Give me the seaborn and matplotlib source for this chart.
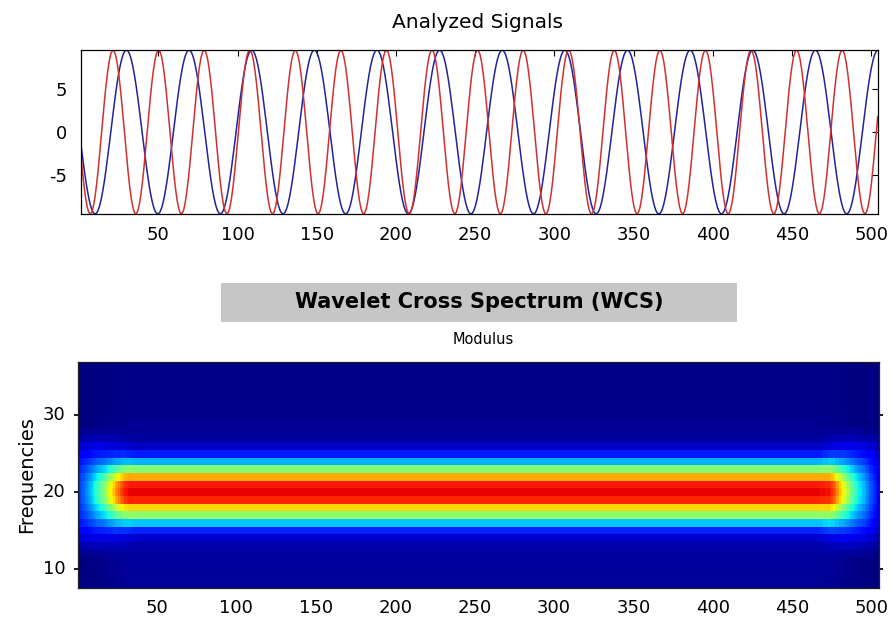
import numpy as np
import pandas as pd
import matplotlib
matplotlib.use("Agg")
import matplotlib.pyplot as plt
import seaborn as sns
from matplotlib.patches import Rectangle

# signals
n_samples = 504
amplitude = 9.6
red_period = 28.76      # samples per cycle
red_first_peak = 21.4
blue_period = 39.53
blue_first_trough = 10.1
xticks_vals = [50, 100, 150, 200, 250, 300, 350, 400, 450, 500]
yticks_top = [-5, 0, 5]

# WCS modulus: rows are frequencies 8..37
freqs = list(range(8, 38))
core_profile = [0.022, 0.024, 0.026, 0.028, 0.030, 0.040, 0.070, 0.160, 0.320, 0.520,
                0.680, 0.870, 0.910, 0.880, 0.730, 0.510, 0.300, 0.150, 0.060, 0.030,
                0.020, 0.016, 0.014, 0.012, 0.010, 0.010, 0.010, 0.010, 0.010, 0.010]
halo_profile = [0.00, 0.00, 0.00, 0.00, 0.10, 0.30, 0.55, 0.80, 0.95, 1.00,
                1.00, 1.00, 1.00, 1.00, 1.00, 1.00, 0.95, 0.80, 0.55, 0.30,
                0.10, 0.00, 0.00, 0.00, 0.00, 0.00, 0.00, 0.00, 0.00, 0.00]
# envelopes at the start (x = 1..35) and end (x = 466..504) of the signal
left_core = [0.05, 0.07, 0.09, 0.11, 0.13, 0.15, 0.17, 0.19, 0.22, 0.25,
             0.28, 0.31, 0.34, 0.37, 0.40, 0.43, 0.46, 0.50, 0.54, 0.58,
             0.62, 0.66, 0.70, 0.74, 0.78, 0.82, 0.86, 0.89, 0.92, 0.94,
             0.96, 0.98, 0.99, 1.00, 1.00]
left_halo = [0.13, 0.13, 0.13, 0.13, 0.13, 0.13, 0.13, 0.13, 0.13, 0.13,
             0.13, 0.13, 0.12, 0.12, 0.11, 0.11, 0.10, 0.10, 0.09, 0.09,
             0.08, 0.08, 0.07, 0.07, 0.06, 0.05, 0.04, 0.04, 0.03, 0.03,
             0.02, 0.02, 0.01, 0.01, 0.00]
right_core = [1.00, 0.99, 0.98, 0.97, 0.96, 0.95, 0.94, 0.93, 0.91, 0.88,
              0.84, 0.80, 0.76, 0.72, 0.68, 0.64, 0.60, 0.56, 0.52, 0.48,
              0.44, 0.40, 0.37, 0.34, 0.31, 0.28, 0.26, 0.24, 0.22, 0.20,
              0.18, 0.16, 0.14, 0.12, 0.10, 0.08, 0.07, 0.06, 0.05]
right_halo = [0.00, 0.01, 0.01, 0.02, 0.03, 0.03, 0.04, 0.05, 0.05, 0.06,
              0.07, 0.07, 0.08, 0.09, 0.09, 0.10, 0.11, 0.11, 0.12, 0.12,
              0.13, 0.13, 0.13, 0.13, 0.13, 0.13, 0.13, 0.13, 0.13, 0.13,
              0.13, 0.12, 0.12, 0.11, 0.11, 0.10, 0.10, 0.09, 0.08]

sns.set_theme(style="white")
plt.rcParams['font.family'] = ['DejaVu Sans']
plt.rcParams['axes.unicode_minus'] = False
plt.rcParams['text.color'] = 'black'

t = np.arange(1, n_samples + 1)
red_sig = amplitude * np.cos(2 * np.pi * (t - red_first_peak) / red_period)
blue_sig = -amplitude * np.cos(2 * np.pi * (t - blue_first_trough) / blue_period)

core_env = np.ones(n_samples)
core_env[:len(left_core)] = left_core
core_env[-len(right_core):] = right_core
halo_env = np.zeros(n_samples)
halo_env[:len(left_halo)] = left_halo
halo_env[-len(right_halo):] = right_halo
modulus = np.outer(core_profile, core_env) + np.outer(halo_profile, halo_env)
wcs = pd.DataFrame(modulus, index=freqs, columns=t)

W, H = 896, 623
fig = plt.figure(figsize=(W / 100, H / 100), dpi=100)

# top panel
ax1 = fig.add_axes([80.7 / W, 1 - 214 / H, 797 / W, 164 / H])
sig_df = pd.DataFrame({"t": t, "red": red_sig, "blue": blue_sig})
sns.lineplot(data=sig_df, x="t", y="blue", color="#22229a", lw=1.1, ax=ax1)
sns.lineplot(data=sig_df, x="t", y="red", color="#d03030", lw=1.1, ax=ax1)
ax1.set_xlim(1, n_samples)
ax1.set_ylim(-amplitude, amplitude)
ax1.set_xticks(xticks_vals)
ax1.set_yticks(yticks_top)
ax1.set_xlabel("")
ax1.set_ylabel("")
ax1.tick_params(direction="in", top=True, right=True, length=4, width=0.8,
                labelsize=13, colors="black")
ax1.tick_params(axis="x", pad=9)
ax1.tick_params(axis="y", pad=10)
for s in ax1.spines.values():
    s.set_color("black")
    s.set_linewidth(0.9)

# bottom panel
ax2 = fig.add_axes([78.3 / W, 1 - 588 / H, 800.7 / W, 226.3 / H])
sns.heatmap(wcs, cmap="jet", vmin=0, vmax=1, cbar=False, ax=ax2)
ax2.invert_yaxis()
ax2.set_ylim(0, len(freqs) - 0.5)
ax2.set_xticks([v - 0.5 for v in xticks_vals])
ax2.set_xticklabels([str(v) for v in xticks_vals], rotation=0)
ax2.set_yticks([f - freqs[0] + 0.5 for f in [10, 20, 30]])
ax2.set_yticklabels(["10", "20", "30"], rotation=0)
ax2.set_xlabel("")
ax2.set_ylabel("Frequencies", fontsize=14, color="black")
ax2.yaxis.set_label_coords(-0.053, 0.5)
ax2.tick_params(axis="x", length=0, pad=8, labelsize=13, colors="black")
ax2.tick_params(axis="y", length=3, pad=6, labelsize=13, colors="black",
                left=True, right=True, direction="out")
for s in ax2.spines.values():
    s.set_visible(True)
    s.set_color("#202020")
    s.set_linewidth(0.9)

# titles
fig.text(477 / W, 1 - 28 / H, "Analyzed Signals", ha="center", va="baseline",
         fontsize=14.5)
fig.patches.append(Rectangle((221 / W, 1 - 322 / H), 516 / W, 39 / H,
                             transform=fig.transFigure, facecolor="#c6c6c6",
                             edgecolor="none"))
fig.text(479 / W, 1 - 308 / H, "Wavelet Cross Spectrum (WCS)", ha="center",
         va="baseline", fontsize=15, fontweight="bold")
fig.text(483 / W, 1 - 344 / H, "Modulus", ha="center", va="baseline",
         fontsize=10.5)

fig.savefig("out.png", dpi=100)
